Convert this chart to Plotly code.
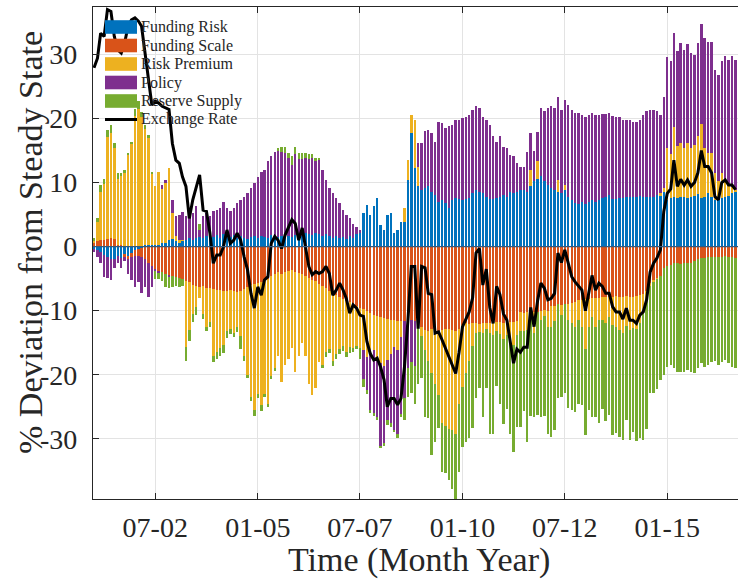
import pandas as pd
import plotly.graph_objects as go

# ---------------- data (monthly, Jan 2001 - Sep 2016) ----------------
dates = pd.date_range("2001-01-01", periods=189, freq="MS")

series_names = ["Funding Risk", "Funding Scale", "Risk Premium", "Policy", "Reserve Supply"]
series_colors = ["#0072BD", "#D95319", "#EDB120", "#7E2F8E", "#77AC30"]
line_name = "Exchange Rate"

funding_risk = [
    -0.3, -0.6, -0.9, -1.3, -1.6, -2.0, -1.9, -1.5, -1.8, -1.3, -1.4, -1.0, -0.6, -0.4, -0.2, 0.2, 0.2, 0.3, 0.3,
    0.3, 0.5, 0.5, 1.0, 1.2, 0.8, 0.6, 0.9, 1.0, 1.3, 1.1, 1.4, 1.5, 1.3, 1.6, 1.2, 1.5, 1.8, 1.4, 2.0,
    1.7, 1.5, 1.8, 1.4, 1.6, 1.3, 1.2, 1.5, 1.7, 1.4, 1.6, 1.5, 1.4, 1.8, 1.6, 1.5, 1.7, 1.9, 1.6, 1.5,
    1.8, 2.0, 1.7, 2.1, 1.9, 1.8, 2.2, 2.0, 1.7, 1.9, 1.6, 1.4, 1.7, 1.3, 1.5, 1.2, 1.6, 1.3, 2.0, 2.1,
    5.2, 6.5, 4.9, 6.3, 7.6, 3.4, 2.6, 4.9, 5.2, 2.1, 2.6, 3.9, 3.9, 10.4, 17.7, 12.2, 9.4,
    8.9, 9.1, 9.4, 8.6, 8.1, 7.0, 7.3, 6.8, 6.1, 7.3,
    7.6, 7.4, 7.3, 7.4, 7.6, 8.3, 8.9, 8.6, 8.3, 7.8,
    7.4, 7.4, 7.6, 7.8, 8.1, 7.8, 8.6, 8.3, 8.6, 8.9,
    8.9, 8.6, 9.4, 10.2, 10.6, 11.0, 10.2, 9.6, 9.1, 8.9,
    8.6, 8.3, 8.9, 7.8, 7.3, 6.8, 6.7, 7.0, 6.7, 7.0,
    7.3, 7.0, 7.3, 7.6, 7.8, 8.1, 7.4, 7.4, 7.6, 7.6,
    7.7, 7.8, 7.8, 7.8, 7.9, 7.8, 7.7, 7.8, 7.8, 8.1,
    7.9, 8.6, 7.3, 7.6, 7.8, 7.6, 7.7, 7.8, 7.6, 7.7,
    7.9, 8.2, 7.6, 7.8, 8.3, 7.8, 7.3, 7.3, 7.6, 7.8,
    7.9, 8.3, 8.6,
]

funding_scale = [
    0.5, 0.8, 1.0, 1.0, 1.2, 1.3, 1.2, 0.3, 0.3,
    -0.3, -0.5, -0.6, -0.8, -1.0, -1.4, -2.0, -2.5, -3.0,
    -3.6, -3.9, -4.0, -4.3, -4.5, -4.6, -4.7, -4.9, -5.0, -5.4,
    -5.6, -6.0, -6.1, -6.3, -6.2, -6.4, -6.5, -6.6, -6.8, -6.7,
    -6.9, -7.0, -6.8, -7.0, -7.1, -6.9, -6.6, -6.3, -6.0, -5.9,
    -5.7, -5.5, -5.3, -5.1, -4.6, -4.2, -4.0, -4.2, -4.0, -3.8,
    -3.7, -3.9, -4.1, -4.3, -4.6, -4.9, -5.2, -5.4, -5.8, -6.1,
    -6.5, -6.9, -7.2, -7.6, -7.9, -8.2, -8.5, -8.7, -9.0, -9.3,
    -9.6, -9.8, -10.1, -10.4, -10.6, -10.9, -11.0, -11.2, -11.3, -11.4,
    -11.5, -11.6, -11.6, -11.6, -11.5, -11.5, -11.6, -11.7,
    -12.5, -13.0, -13.1, -12.9, -13.0, -13.2, -13.0, -12.9, -12.9, -13.0,
    -13.1, -12.8, -12.2, -12.0, -12.1, -11.9, -12.0, -12.1, -12.0, -11.9,
    -12.0, -11.8, -11.7, -11.8, -11.9, -11.8, -11.7, -11.8, -11.6, -10.2,
    -10.3, -10.2, -10.1, -10.2, -10.2, -10.0, -9.9, -10.0, -9.2, -9.3,
    -9.0, -9.1, -9.0, -8.9, -8.8, -8.6, -8.3, -8.4, -8.2, -8.2,
    -8.1, -8.0, -8.0, -7.9, -7.9, -7.8, -7.8, -7.7, -7.8, -7.8,
    -7.7, -7.8, -7.8, -7.7, -7.6, -7.4, -7.0, -5.7, -5.3, -5.0,
    -4.6, -3.4, -3.0, -2.8, -2.6, -2.6, -2.7, -2.6, -2.5, -2.6,
    -2.2, -2.0, -1.8, -1.8, -1.7, -1.7, -1.6, -1.6, -1.6, -1.5,
    -1.6, -1.7, -1.8,
]

risk_premium = [
    0.5, 3.1, 7.6, 8.7, 15.9, 16.4, 14.2, 10.2, 10.7, 11.5, 14.3, 16.0, 20.4, 21.5, 20.2, 18.2, 16.7, 11.0,
    9.1, 11.3, 8.5, 9.4, 11.2, 4.0,
    0.8, 0.5, 0.2,
    -10.2, -7.4, -4.5, -3.4, -1.7, -4.3, -6.1, -5.3, -10.4, -9.7,
    -9.1, -8.5, -6.2, -6.0, -6.5, -5.4, -7.1, -10.4, -13.7, -17.5,
    -19.6, -17.3, -19.3, -17.7, -19.4, -15.6, -14.8, -13.0, -17.0, -14.5,
    -13.7, -12.1, -15.6, -12.9, -10.7, -12.4, -16.6, -18.0, -16.6, -12.2,
    -12.4, -10.0, -9.1, -10.6, -9.2, -8.1, -7.3, -8.0, -6.9, -6.8,
    -6.2, -6.2, -6.3, -7.1, -6.3, -5.5, -6.8, -7.2, -7.5, -6.4,
    -5.3, -4.1, -4.5,
    -2.5, 2.1, 3.1, 2.9, 7.6, 3.0,
    -1.5, -3.1, -4.7, -6.8, -8.4, -9.9, -14.6, -15.1, -15.5, -15.6,
    -16.2, -11.7, -9.7, -7.8, -5.7, -3.6, -1.5, -1.2, -1.5, -1.0,
    -1.5, -2.0, -1.5, -1.8, -2.5, -2.0, -2.8, -3.5, -2.2, -3.0,
    -2.8, -2.8, 2.6, -3.3, 2.8, -1.5, -1.0, -2.5, -3.3, -2.3,
    1.8, -1.5, 0.7, -2.5, -3.2, -3.9, -3.2, -4.2, -7.8, -4.3,
    -2.9, -4.5, -3.5, -3.6, -4.1, -3.2, -4.4, -4.9, -5.2, -5.7,
    -4.7, -5.2, -4.9, -5.2, -4.4, -3.1, -1.5, -0.5, -0.2, -0.1,
    0.5, 0.5, 8.1, 6.8, 10.9, 8.1, 8.4, 7.6, 8.6, 7.7,
    8.0, 9.0, 11.5, 7.6, 6.3, 6.8, 4.2, 2.9, 3.9, 2.6,
    1.7, 1.0, 0.3,
]

policy = [
    -0.6, -1.0, -1.7, -3.4, -3.3, -3.2, -1.5, -1.1, -1.6, -0.7, -2.3, -3.6, -4.9, -4.1, -5.7, -4.3, -5.3, -3.3,
    -0.2, -0.2, 0.6, 0.5, -0.3, 2.1,
    3.2, 3.8, 4.3, 3.7, 4.7, 4.1, 4.9, 1.1, 3.4, 3.6,
    3.5, 4.0, 3.9, 4.6, 5.0, 4.3, 4.0, 4.2, 5.4, 5.7,
    6.5, 7.2, 7.6, 8.3, 9.5, 10.0, 10.5, 11.9, 12.3, 13.2,
    13.4, 13.1, 12.7, 12.2, 11.3, 12.6, 11.6, 12.0, 11.7, 11.7,
    12.1, 11.3, 11.6, 10.3, 8.5, 7.5, 6.9, 5.9, 5.5, 4.2,
    3.7, 2.8, 2.3, 1.1, 0.5,
    -4.5, -5.2, -8.8, -9.9, -8.9, -13.0, -12.0, -9.3, -10.9, -13.0, -13.1, -12.0, -12.0, -7.5, -6.5, -7.0,
    3.7,
    7.2, 8.9, 8.8, 9.1, 8.3, 12.5, 12.0, 11.7, 12.7, 11.7,
    12.2, 12.4, 12.7, 12.9, 13.0, 13.1, 13.0, 13.0, 12.0, 12.0,
    11.6, 9.8, 8.8, 9.4, 7.5, 7.6, 5.7, 5.8, 4.4, 3.6,
    3.6, 6.2, 5.8, 4.8, 4.5, 10.6, 10.9, 12.0, 12.9, 12.7,
    13.0, 13.1, 13.3, 14.3, 14.1, 14.0, 14.1, 13.6, 13.6, 13.6,
    13.5, 13.6, 13.3, 13.1, 12.9, 12.7, 13.0, 12.8, 12.6, 12.1,
    12.1, 11.9, 11.7, 11.6, 11.9, 12.8, 13.4, 13.6, 13.6, 13.0,
    12.2, 14.3, 14.2, 14.5, 14.7, 14.8, 15.7, 15.3, 15.5, 14.8,
    14.0, 14.6, 15.7, 17.2, 17.4, 17.3, 16.0, 16.6, 17.4, 19.3,
    19.6, 20.4, 20.3,
]

reserve_supply = [
    0.3, 0.5, 1.0, 0.8, 1.1, 1.3, 0.7, 1.0, 0.5, 0.4, 0.3, 0.4, 1.1, 1.2, 0.8, 0.6, 0.5, 0.4,
    -1.2, -1.0, -1.3, -2.0, -1.6, -1.7, -1.5, -1.4, -1.2, -2.3, -1.8, -1.3, -1.2,
    1.0,
    -0.8, -0.6, -0.7, -1.0, -1.1, -1.3, -1.2, -1.0, -0.8, -0.6, -0.9, -2.0, -0.8, -0.5, -0.6, -1.0,
    -0.6, -0.8, -0.5, -0.6, -0.5, -0.4,
    0.5, 0.8, 1.0, 0.8, 1.3, 1.2, 1.0, 0.9, 0.8, 0.9, 0.6, 0.3, 0.2,
    -0.5, -0.8, -0.6, -0.8, -0.8, -0.7, -0.8, -0.8, -1.0, -0.6, -0.5, -1.8,
    -1.3, -0.6, -0.5, -0.4, -0.5, -0.3, -0.4, -0.8, -0.5, -0.4, -0.6,
    -0.5, -3.4, -4.4, -4.9, -6.0, -9.7, -6.5,
    -10.5, -8.9, -12.8, -9.1, -5.2, -7.6, -7.3, -8.1, -9.2, -10.1,
    -10.7, -9.4, -10.7, -12.0, -12.8, -10.2, -8.7, -13.1, -9.1, -15.7,
    -15.4, -8.6, -10.9, -13.3, -11.5, -14.8, -16.7, -14.4, -14.9, -12.5,
    -17.5, -16.4, -13.1, -16.1, -15.1, -15.6, -16.7, -17.2, -17.1, -14.7,
    -12.9, -13.9, -13.8, -13.5, -13.3, -13.0, -12.2, -13.4, -13.0, -15.6,
    -14.1, -16.1, -13.8, -15.3, -15.3, -17.2, -16.5, -16.7, -16.7, -14.6,
    -17.2, -16.2, -17.5, -17.9, -19.7, -19.9, -16.7, -17.4, -17.1, -16.2,
    -16.7, -15.8, -15.7, -16.4, -16.9, -16.9, -16.9, -16.8, -16.9, -17.6,
    -17.0, -16.4, -17.0, -16.8, -16.3, -16.3, -16.9, -16.4, -16.2, -16.6,
    -17.1, -17.2,
]

exchange_rate = [
    27.9, 29.4, 33.3, 32.8, 37.0, 36.7, 32.8, 30.7, 30.2, 31.8,
    34.4, 35.4, 35.7, 35.2, 34.4, 30.2, 26.0, 22.1, 22.7, 22.4,
    21.9, 21.6, 21.4, 16.1, 13.5, 13.0, 10.9, 9.4, 4.4, 7.3,
    9.4, 11.2, 5.7, 5.5, 2.1, -2.6, -1.3, -1.3, 0.0, 2.6,
    0.5, 1.0, 2.1, 1.0, -1.6, -3.6, -7.3, -9.6, -6.3, -7.6,
    -5.2, -4.7, 0.5, 1.6, 1.0, -0.3, 1.8, 3.1, 4.2, 3.6,
    1.0, 2.9, 0.0, -3.1, -4.4, -3.9, -4.2, -3.9, -3.1, -4.2,
    -7.6, -6.8, -5.7, -6.8, -8.1, -10.4, -9.1, -9.6, -10.7, -10.9,
    -14.8, -16.7, -17.7, -17.4, -18.8, -20.8, -25.0, -23.7, -23.7, -24.7,
    -23.7, -18.8, -11.5, -3.1, -3.1, -12.8, -3.1, -3.3, -7.3, -7.5,
    -13.5, -13.3, -14.5, -15.8, -17.0, -18.2, -19.8, -16.5, -12.5, -11.3,
    -10.2, -8.0, -1.0, -0.3, -6.0, -3.5, -9.5, -12.0, -6.2, -7.5,
    -10.5, -11.5, -15.0, -18.2, -16.0, -16.5, -15.7, -15.7, -9.5, -12.5,
    -8.5, -5.7, -6.5, -8.3, -8.1, -7.3, -1.0, -2.5, -0.5, -2.6,
    -4.7, -5.5, -6.2, -6.8, -10.0, -6.8, -4.5, -6.8, -5.7, -6.2,
    -7.3, -7.3, -9.4, -10.2, -10.2, -11.3, -9.6, -11.5, -11.5, -12.0,
    -10.7, -10.2, -8.3, -4.0, -2.6, -1.8, -0.5, 5.5, 8.3, 9.0,
    13.5, 9.4, 10.5, 9.6, 10.4, 9.4, 10.0, 11.5, 15.0, 12.5,
    12.5, 11.5, 7.8, 7.3, 10.0, 10.4, 9.6, 9.6, 8.9,
]

x_tick_dates = ["2002-07-01", "2005-01-01", "2007-07-01", "2010-01-01", "2012-07-01", "2015-01-01"]
x_tick_text = ["07-02", "01-05", "07-07", "01-10", "07-12", "01-15"]
y_tick_vals = [-30, -20, -10, 0, 10, 20, 30]
y_tick_text = ["-30", "-20", "-10", "0", "10", "20", "30"]

all_series = [funding_risk, funding_scale, risk_premium, policy, reserve_supply]
for s in all_series + [exchange_rate]:
    assert len(s) == len(dates), len(s)

# ---------------- figure ----------------
FONT = "Liberation Serif"
AX = "#262626"
GRID = "#e3e3e3"
W, H = 738, 580
ML, MR, MT, MB = 93, 0, 7, 81
bar_width_ms = 0.72 * 30.44 * 86400000

fig = go.Figure()
for name, vals, color in zip(series_names, all_series, series_colors):
    fig.add_trace(go.Bar(
        x=dates, y=vals, name=name, width=bar_width_ms,
        marker=dict(color=color, line=dict(width=0)), showlegend=False,
    ))
fig.add_trace(go.Scatter(
    x=dates, y=exchange_rate, name=line_name, mode="lines",
    line=dict(color="black", width=3), showlegend=False,
))

# legend drawn by hand (long swatches like the original)
pw, ph = W - ML - MR, H - MT - MB
def px2paper(px, py):
    return (px - ML) / pw, (H - MB - py) / ph

shapes = []
annotations = []
row0, step = 27.0, 18.5
for i, name in enumerate(series_names + [line_name]):
    cy = row0 + i * step
    x0, y0 = px2paper(105, cy - 6.8)
    x1, y1 = px2paper(137, cy + 6.8)
    if i < len(series_names):
        shapes.append(dict(type="rect", xref="paper", yref="paper", x0=x0, x1=x1, y0=y1, y1=y0,
                           fillcolor=series_colors[i], line=dict(width=0), layer="above"))
    else:
        _, yc = px2paper(0, cy)
        shapes.append(dict(type="line", xref="paper", yref="paper", x0=x0, x1=x1, y0=yc, y1=yc,
                           line=dict(color="black", width=3), layer="above"))
    tx, ty = px2paper(139, cy)
    annotations.append(dict(xref="paper", yref="paper", x=tx, y=ty, text=name, showarrow=False,
                            xanchor="left", yanchor="middle",
                            font=dict(family=FONT, size=16, color=AX)))

# axis titles placed as annotations (pixel positions as in the original)
xt_x, xt_y = px2paper(419, 560)
annotations.append(dict(xref="paper", yref="paper", x=xt_x, y=xt_y, text="Time (Month Year)",
                        showarrow=False, xanchor="center", yanchor="middle",
                        font=dict(family=FONT, size=34, color=AX)))
yt_x, yt_y = px2paper(31, 243)
annotations.append(dict(xref="paper", yref="paper", x=yt_x, y=yt_y, text="% Deviation from Steady State",
                        showarrow=False, xanchor="center", yanchor="middle", textangle=-90,
                        font=dict(family=FONT, size=34, color=AX)))

# bar baseline at zero
shapes.append(dict(type="line", xref="paper", yref="y", x0=0, x1=1, y0=0, y1=0,
                   line=dict(color="#34597e", width=1.3), layer="above"))

fig.update_layout(
    width=W, height=H,
    margin=dict(l=ML, r=MR, t=MT, b=MB, pad=0, autoexpand=False),
    paper_bgcolor="white", plot_bgcolor="white",
    barmode="relative", bargap=0,
    showlegend=False,
    shapes=shapes, annotations=annotations,
    xaxis=dict(
        type="date", range=["2000-12-23", "2016-09-23"], automargin=False,
        tickmode="array", tickvals=x_tick_dates, ticktext=x_tick_text,
        ticks="inside", ticklen=6, tickcolor=AX, tickwidth=1,
        showline=True, linecolor=AX, linewidth=1.3, mirror="ticks",
        showgrid=True, gridcolor=GRID, gridwidth=1, zeroline=False,
        tickfont=dict(family=FONT, size=28, color=AX), ticklabelstandoff=3,
    ),
    yaxis=dict(
        range=[-39.4, 37.4], automargin=False,
        tickmode="array", tickvals=y_tick_vals, ticktext=y_tick_text,
        ticks="inside", ticklen=6, tickcolor=AX, tickwidth=1,
        showline=True, linecolor=AX, linewidth=1.3, mirror=False,
        showgrid=True, gridcolor=GRID, gridwidth=1, zeroline=False,
        tickfont=dict(family=FONT, size=28, color=AX), ticklabelstandoff=9,
    ),
)

fig.write_html("out.html", config={"displayModeBar": False},
               post_script="document.body.style.margin='0px';")
